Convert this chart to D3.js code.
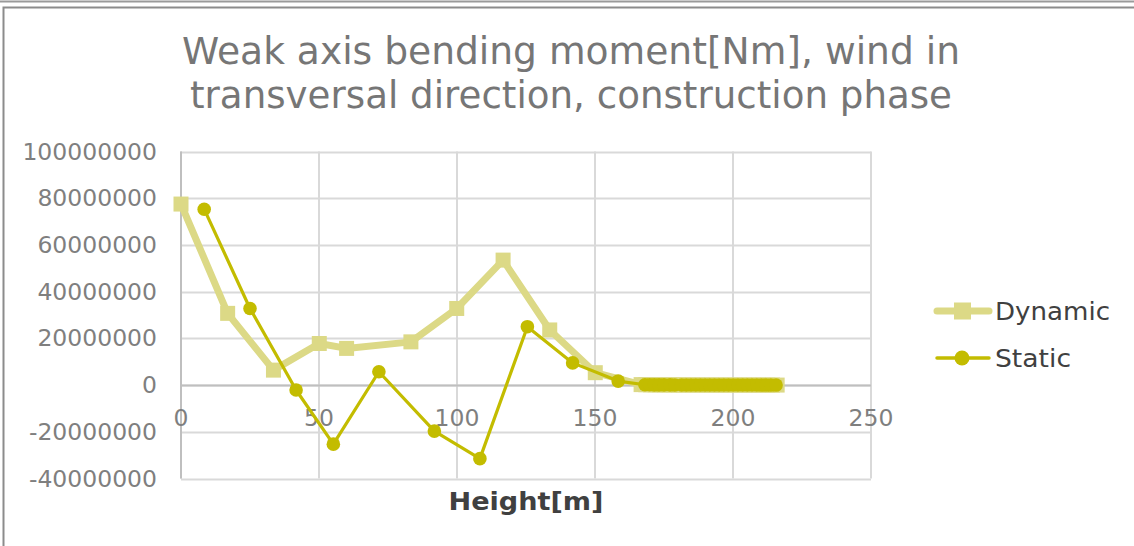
<!DOCTYPE html>
<html>
<head>
<meta charset="utf-8">
<script src="https://cdn.jsdelivr.net/npm/d3@7"></script>
<style>
  html, body { margin: 0; padding: 0; background: #fff; }
  svg { display: block; font-family: "DejaVu Sans", Verdana, sans-serif; }
</style>
</head>
<body>
<svg id="chart" width="1134" height="546"></svg>
<script>
// ---- data ----
const titleLines = ["Weak axis bending moment[Nm], wind in", "transversal direction, construction phase"];
const xAxisTitle = "Height[m]";
const xTicks = [0, 50, 100, 150, 200, 250];
const yTicks = [-40000000, -20000000, 0, 20000000, 40000000, 60000000, 80000000, 100000000];
const seriesNames = ["Dynamic", "Static"];

const dynamicHeights = [0, 16.9, 33.5, 50.1, 60.0, 83.3, 99.9, 116.7, 133.6, 150.1,
  166.7, 168.4, 170.1, 171.8, 173.5, 175.2, 176.9, 178.6, 180.3, 182.0, 183.7, 185.4, 187.1, 188.8,
  190.5, 192.2, 193.9, 195.6, 197.3, 199.0, 200.7, 202.4, 204.1, 205.8, 207.5, 209.2, 210.9, 212.6, 214.3, 216.0];
const dynamicValues = [77500000, 30700000, 6400000, 17800000, 15700000, 18500000, 32800000, 53500000, 23600000, 5300000,
  200000, 150000, 120000, 100000, 90000, 80000, 70000, 60000, 50000, 45000, 40000, 35000, 30000, 25000,
  20000, 18000, 16000, 14000, 12000, 10000, 8000, 6000, 5000, 4000, 3000, 2000, 1500, 1000, 500, 0];

const staticHeights = [8.4, 25.0, 41.7, 55.2, 71.7, 91.8, 108.3, 125.5, 141.9, 158.4,
  168.1, 169.8, 171.5, 173.2, 175.0, 177.2, 178.9, 181.4, 183.1, 184.8, 186.5, 188.2, 189.9, 191.6,
  193.3, 195.0, 196.7, 198.4, 200.1, 201.8, 203.5, 205.2, 206.9, 208.6, 210.3, 212.0, 213.7, 215.6];
const staticValues = [75300000, 32800000, -2100000, -25300000, 5700000, -19700000, -31500000, 25000000, 9500000, 1700000,
  150000, 120000, 100000, 90000, 80000, 70000, 60000, 50000, 45000, 40000, 35000, 30000, 25000, 20000,
  18000, 16000, 14000, 12000, 10000, 8000, 6000, 5000, 4000, 3000, 2000, 1000, 500, 0];

// ---- layout ----
const svg = d3.select("#chart");
const W = 1134, H = 546;
const plot = { left: 181, right: 871, top: 151.5, bottom: 478.5 };
const dynColor = "#dcd986";
const staColor = "#c3bc00";
const labelColor = "#7f7f7f";
const darkText = "#404040";

const x = d3.scaleLinear().domain([0, 250]).range([plot.left, plot.right]);
const y = d3.scaleLinear().domain([-40000000, 100000000]).range([plot.bottom, plot.top]);

// frame
svg.append("line").attr("x1", 0).attr("x2", W).attr("y1", 1.5).attr("y2", 1.5)
  .attr("stroke", "#9a9a9a").attr("stroke-width", 2);
svg.append("rect").attr("x", 3.5).attr("y", 7.5).attr("width", W + 10).attr("height", H + 10)
  .attr("fill", "none").attr("stroke", "#8c8c8c").attr("stroke-width", 2);

// title
titleLines.forEach((t, i) => {
  svg.append("text")
    .attr("x", 571).attr("y", 64 + i * 44)
    .attr("text-anchor", "middle")
    .attr("font-size", 37)
    .attr("fill", "#767676")
    .attr("textLength", i === 0 ? 778 : 762)
    .attr("lengthAdjust", "spacingAndGlyphs")
    .text(t);
});

// gridlines
const g = svg.append("g");
g.selectAll(".hg").data(yTicks).enter().append("line")
  .attr("x1", plot.left).attr("x2", plot.right)
  .attr("y1", d => Math.round(y(d)) + 0.5).attr("y2", d => Math.round(y(d)) + 0.5)
  .attr("stroke", "#d9d9d9").attr("stroke-width", 2);
g.selectAll(".vg").data(xTicks).enter().append("line")
  .attr("x1", d => Math.round(x(d))).attr("x2", d => Math.round(x(d)))
  .attr("y1", plot.top).attr("y2", plot.bottom)
  .attr("stroke", "#d9d9d9").attr("stroke-width", 2);

// axes lines
svg.append("line").attr("x1", plot.left).attr("x2", plot.right)
  .attr("y1", Math.round(y(0)) + 0.5).attr("y2", Math.round(y(0)) + 0.5)
  .attr("stroke", "#bfbfbf").attr("stroke-width", 2);
svg.append("line").attr("x1", plot.left).attr("x2", plot.left)
  .attr("y1", plot.top).attr("y2", plot.bottom)
  .attr("stroke", "#bfbfbf").attr("stroke-width", 2);

// y tick labels
svg.selectAll(".yl").data(yTicks).enter().append("text")
  .attr("x", 157).attr("y", d => y(d) + 8)
  .attr("text-anchor", "end").attr("font-size", 23.5).attr("fill", labelColor)
  .text(d => String(d));

// x tick labels
svg.selectAll(".xl").data(xTicks).enter().append("text")
  .attr("x", d => x(d)).attr("y", y(0) + 41)
  .attr("text-anchor", "middle").attr("font-size", 23.5).attr("fill", labelColor)
  .text(d => d);

// x axis title
svg.append("text").attr("x", 526).attr("y", 510)
  .attr("text-anchor", "middle").attr("font-size", 25).attr("font-weight", "bold")
  .attr("fill", darkText)
  .attr("textLength", 155).attr("lengthAdjust", "spacingAndGlyphs")
  .text(xAxisTitle);

// series
const dynData = dynamicHeights.map((h, i) => [h, dynamicValues[i]]);
const staData = staticHeights.map((h, i) => [h, staticValues[i]]);
const line = d3.line().x(d => x(d[0])).y(d => y(d[1]));

svg.append("path").datum(dynData).attr("d", line)
  .attr("fill", "none").attr("stroke", dynColor).attr("stroke-width", 7).attr("stroke-linejoin", "round");
svg.selectAll(".dm").data(dynData).enter().append("rect")
  .attr("x", d => x(d[0]) - 7.5).attr("y", d => y(d[1]) - 7.5)
  .attr("width", 15).attr("height", 15).attr("fill", dynColor);

svg.append("path").datum(staData).attr("d", line)
  .attr("fill", "none").attr("stroke", staColor).attr("stroke-width", 3.2).attr("stroke-linejoin", "round");
svg.selectAll(".sm").data(staData).enter().append("circle")
  .attr("cx", d => x(d[0])).attr("cy", d => y(d[1])).attr("r", 6.8)
  .attr("fill", staColor);

// legend
const legend = svg.append("g");
const legY = [311, 358];
// Dynamic
legend.append("line").attr("x1", 937).attr("x2", 989).attr("y1", legY[0]).attr("y2", legY[0])
  .attr("stroke", dynColor).attr("stroke-width", 7).attr("stroke-linecap", "round");
legend.append("rect").attr("x", 954).attr("y", legY[0] - 8.5).attr("width", 17).attr("height", 17).attr("fill", dynColor);
legend.append("text").attr("x", 995).attr("y", legY[0] + 9).attr("font-size", 25.5).attr("fill", darkText)
  .attr("textLength", 115).attr("lengthAdjust", "spacingAndGlyphs").text(seriesNames[0]);
// Static
legend.append("line").attr("x1", 937).attr("x2", 989).attr("y1", legY[1]).attr("y2", legY[1])
  .attr("stroke", staColor).attr("stroke-width", 3.5).attr("stroke-linecap", "round");
legend.append("circle").attr("cx", 962).attr("cy", legY[1]).attr("r", 7.5).attr("fill", staColor);
legend.append("text").attr("x", 995).attr("y", legY[1] + 9).attr("font-size", 25.5).attr("fill", darkText)
  .attr("textLength", 76).attr("lengthAdjust", "spacingAndGlyphs").text(seriesNames[1]);
</script>
</body>
</html>
